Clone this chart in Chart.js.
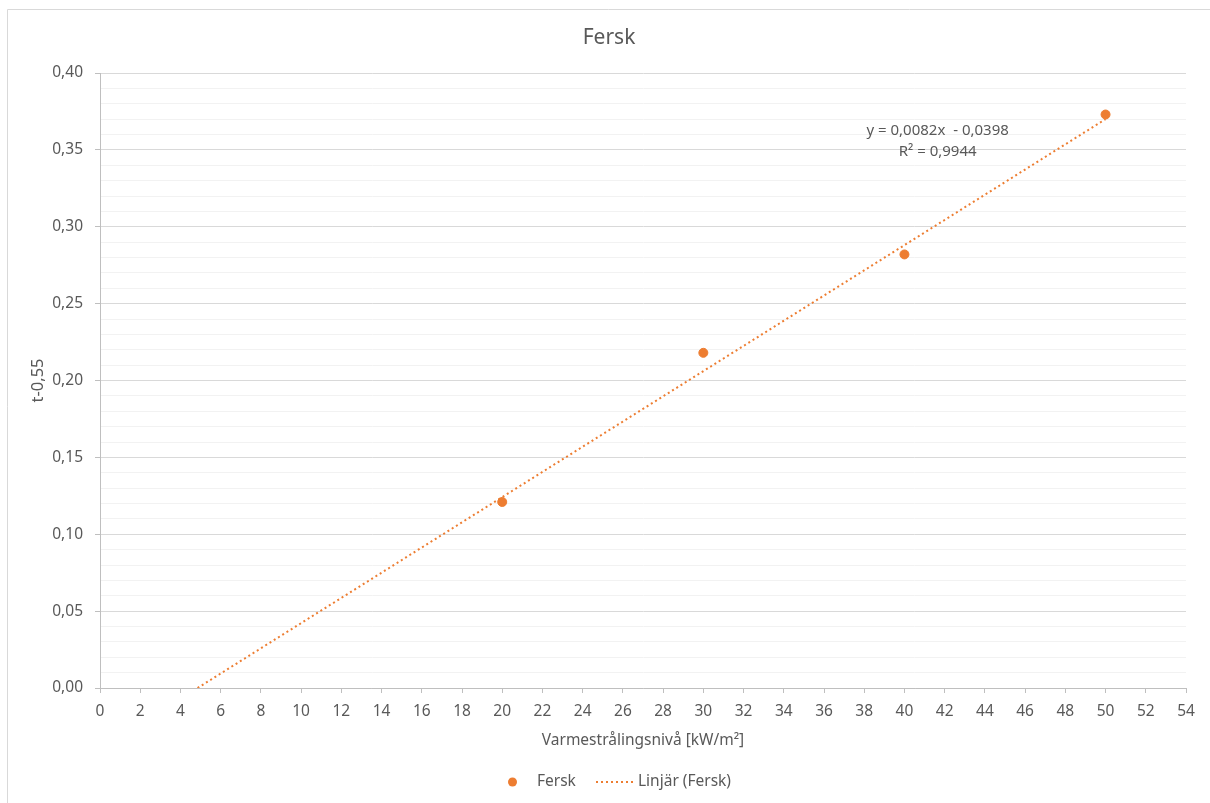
<!DOCTYPE html>
<html>
<head>
<meta charset="utf-8">
<title>Fersk</title>
<script src="https://cdn.jsdelivr.net/npm/chart.js@4"></script>
<style>
  html, body { margin: 0; padding: 0; background: #fff; }
  #wrap { width: 1210px; height: 803px; position: relative; }
</style>
</head>
<body>
<div id="wrap"><canvas id="chart"></canvas></div>
<script>
// measured values (x = Varmestrålingsnivå, y = t^-0,55)
const xValues = [20, 30, 40, 50];
const yValues = [0.121, 0.218, 0.282, 0.373];
// linear trendline end points
const trendX = [4.85, 50];
const trendY = [0.0, 0.370];
const equationLines = ['y = 0,0082x  - 0,0398', 'R² = 0,9944'];
const seriesLabels = ['Fersk', 'Linjär (Fersk)'];
const chartTitle = 'Fersk';

const ORANGE = '#ED7D31';
const TEXT = '#595959';
const FONT = '"Noto Sans", "DejaVu Sans", sans-serif';

const fmt = v => v.toFixed(2).replace('.', ',');
const isMajor = v => Math.round(v * 100) % 5 === 0;

// outer chart frame
const framePlugin = {
  id: 'frame',
  beforeDraw(chart) {
    const ctx = chart.ctx;
    ctx.save();
    ctx.strokeStyle = '#d9d9d9';
    ctx.lineWidth = 1;
    ctx.beginPath();
    ctx.moveTo(7.5, chart.height);
    ctx.lineTo(7.5, 9.5);
    ctx.lineTo(chart.width, 9.5);
    ctx.stroke();
    ctx.restore();
  }
};

// title, trendline equation and legend in the Excel style
const extrasPlugin = {
  id: 'extras',
  afterDraw(chart) {
    const ctx = chart.ctx;
    const xs = chart.scales.x, ys = chart.scales.y;
    ctx.save();
    ctx.fillStyle = TEXT;
    ctx.textAlign = 'center';
    ctx.textBaseline = 'middle';
    ctx.font = '21px ' + FONT;
    ctx.fillText(chartTitle, 609, 38);

    ctx.font = '15px ' + FONT;
    const ex = xs.getPixelForValue(41.65);
    ctx.fillText(equationLines[0], ex, ys.getPixelForValue(0.3623));
    ctx.fillText(equationLines[1], ex, ys.getPixelForValue(0.3486));

    // legend
    const ly = 782;
    ctx.font = '15.5px ' + FONT;
    ctx.textAlign = 'left';
    ctx.fillStyle = ORANGE;
    ctx.beginPath();
    ctx.arc(512.5, ly, 4.5, 0, Math.PI * 2);
    ctx.fill();
    ctx.fillStyle = TEXT;
    ctx.fillText(seriesLabels[0], 537, ly);
    ctx.strokeStyle = ORANGE;
    ctx.lineWidth = 2;
    ctx.setLineDash([2, 3]);
    ctx.beginPath();
    ctx.moveTo(596, ly);
    ctx.lineTo(634, ly);
    ctx.stroke();
    ctx.setLineDash([]);
    ctx.fillText(seriesLabels[1], 638, ly);
    ctx.restore();
  }
};

new Chart(document.getElementById('chart'), {
  type: 'scatter',
  data: {
    datasets: [
      {
        label: seriesLabels[0],
        data: xValues.map((x, i) => ({ x: x, y: yValues[i] })),
        backgroundColor: ORANGE,
        borderColor: ORANGE,
        pointRadius: 4.5,
        pointHoverRadius: 4.5,
        order: 1
      },
      {
        label: seriesLabels[1],
        data: trendX.map((x, i) => ({ x: x, y: trendY[i] })),
        showLine: true,
        borderColor: ORANGE,
        borderWidth: 2,
        borderDash: [2, 3],
        pointRadius: 0,
        fill: false,
        order: 2
      }
    ]
  },
  options: {
    responsive: true,
    maintainAspectRatio: false,
    animation: false,
    layout: { padding: { left: 0, right: 24, top: 73, bottom: 45 } },
    plugins: {
      legend: { display: false },
      tooltip: { enabled: false },
      title: { display: false }
    },
    scales: {
      x: {
        type: 'linear',
        min: 0,
        max: 54,
        border: { color: '#bfbfbf' },
        grid: { drawOnChartArea: false, drawTicks: true, tickLength: 5, tickColor: '#bfbfbf' },
        ticks: { stepSize: 2, color: TEXT, font: { family: FONT, size: 15.5 }, padding: 9, maxRotation: 0, autoSkip: false },
        title: {
          display: true,
          text: 'Varmestrålingsnivå [kW/m²]',
          color: TEXT,
          font: { family: FONT, size: 15.5 },
          padding: 8
        },
        afterFit(scale) { scale.height = 70; }
      },
      y: {
        type: 'linear',
        min: 0,
        max: 0.4,
        border: { color: '#bfbfbf' },
        grid: {
          color: c => isMajor(c.tick.value) ? '#d9d9d9' : '#f2f2f2',
          tickColor: c => isMajor(c.tick.value) ? '#bfbfbf' : 'rgba(0,0,0,0)',
          tickLength: 5
        },
        ticks: {
          stepSize: 0.01,
          autoSkip: false,
          color: TEXT,
          font: { family: FONT, size: 15.5 },
          padding: 12,
          callback: v => isMajor(v) ? fmt(v) : ''
        },
        title: {
          display: true,
          text: 't-0,55',
          color: TEXT,
          font: { family: FONT, size: 16.5 },
          padding: 28
        },
        afterFit(scale) { scale.width = 100; }
      }
    }
  },
  plugins: [framePlugin, extrasPlugin]
});
</script>
</body>
</html>
